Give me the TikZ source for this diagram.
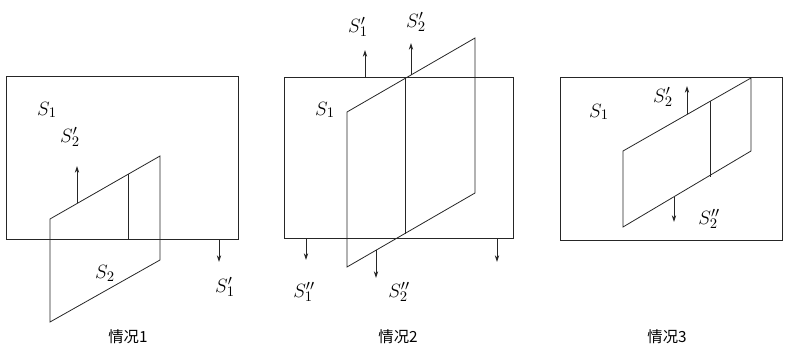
\documentclass[tikz,border=0pt]{standalone}
\usepackage{fontspec}
\newfontfamily\cjk{Noto Sans CJK SC}
\usetikzlibrary{arrows.meta}
\begin{document}
\begin{tikzpicture}[x=0.75pt,y=-0.75pt,
  ln/.style={draw=black!85,line width=0.6pt},
  flux/.style={ln,-{Stealth[length=5pt,width=3.2pt]}},
  lab/.style={inner sep=0pt,font=\fontsize{15}{17}\selectfont},
  captext/.style={inner sep=0pt,font=\cjk\fontsize{11.5}{13}\selectfont}]
\useasboundingbox (0,0) rectangle (785,349);
% ---------- case 1
\draw[ln] (6,76) rectangle (238,239);
\coordinate (a1) at (50,219); \coordinate (b1) at (160,156);
\coordinate (c1) at (160,260); \coordinate (d1) at (50,322);
\draw[ln] (a1) -- (b1) -- (c1) -- (d1) -- cycle;
\coordinate (m1t) at (128,174.3); \coordinate (m1b) at (128,239);
\draw[ln] (m1t) -- (m1b);
\coordinate (p1s) at (77,203); \coordinate (p1e) at (77,166);
\draw[flux] (p1s) -- (p1e);
\coordinate (q1s) at (219,239); \coordinate (q1e) at (219,262);
\draw[flux] (q1s) -- (q1e);
\node[lab] (s1a) at (47,110) {$S_1$};
\node[lab] (s2pa) at (70,137) {$S_2'$};
\node[lab] (s1pa) at (225,287) {$S_1'$};
\node[lab] (s2a) at (105,273) {$S_2$};
\node[captext] (c1lab) at (128,337) {情况1};
% ---------- case 2
\draw[ln] (284,77) rectangle (513,238);
\coordinate (a2) at (347,112); \coordinate (b2) at (475,38);
\coordinate (c2) at (475,193); \coordinate (d2) at (347,267);
\draw[ln] (a2) -- (b2) -- (c2) -- (d2) -- cycle;
\coordinate (m2t) at (405,78.5); \coordinate (m2b) at (405,233.5);
\draw[ln] (m2t) -- (m2b);
\coordinate (p2s) at (365,77); \coordinate (p2e) at (365,50);
\draw[flux] (p2s) -- (p2e);
\coordinate (r2s) at (411,75); \coordinate (r2e) at (411,43);
\draw[flux] (r2s) -- (r2e);
\coordinate (q2s) at (306,238); \coordinate (q2e) at (306,260);
\draw[flux] (q2s) -- (q2e);
\coordinate (t2s) at (376,250); \coordinate (t2e) at (376,278);
\draw[flux] (t2s) -- (t2e);
\coordinate (u2s) at (497,238); \coordinate (u2e) at (497,262);
\draw[flux] (u2s) -- (u2e);
\node[lab] (s1b) at (325,110) {$S_1$};
\node[lab] (s1pb) at (358,27) {$S_1'$};
\node[lab] (s2pb) at (416,22) {$S_2'$};
\node[lab] (s1ppb) at (304,292) {$S_1''$};
\node[lab] (s2ppb) at (399,292) {$S_2''$};
\node[captext] (c2lab) at (398,337) {情况2};
% ---------- case 3
\draw[ln] (560,77) rectangle (782,240);
\coordinate (a3) at (623,151); \coordinate (b3) at (751,78);
\coordinate (c3) at (751,151); \coordinate (d3) at (623,227);
\draw[ln] (a3) -- (b3) -- (c3) -- (d3) -- cycle;
\coordinate (m3t) at (710,101.4); \coordinate (m3b) at (710,176.6);
\draw[ln] (m3t) -- (m3b);
\coordinate (p3s) at (687,114.5); \coordinate (p3e) at (687,86);
\draw[flux] (p3s) -- (p3e);
\coordinate (q3s) at (674,197); \coordinate (q3e) at (674,222);
\draw[flux] (q3s) -- (q3e);
\node[lab] (s1c) at (599,112) {$S_1$};
\node[lab] (s2pc) at (663,97) {$S_2'$};
\node[lab] (s2ppc) at (709,219) {$S_2''$};
\node[captext] (c3lab) at (667,337) {情况3};
\end{tikzpicture}
\end{document}
